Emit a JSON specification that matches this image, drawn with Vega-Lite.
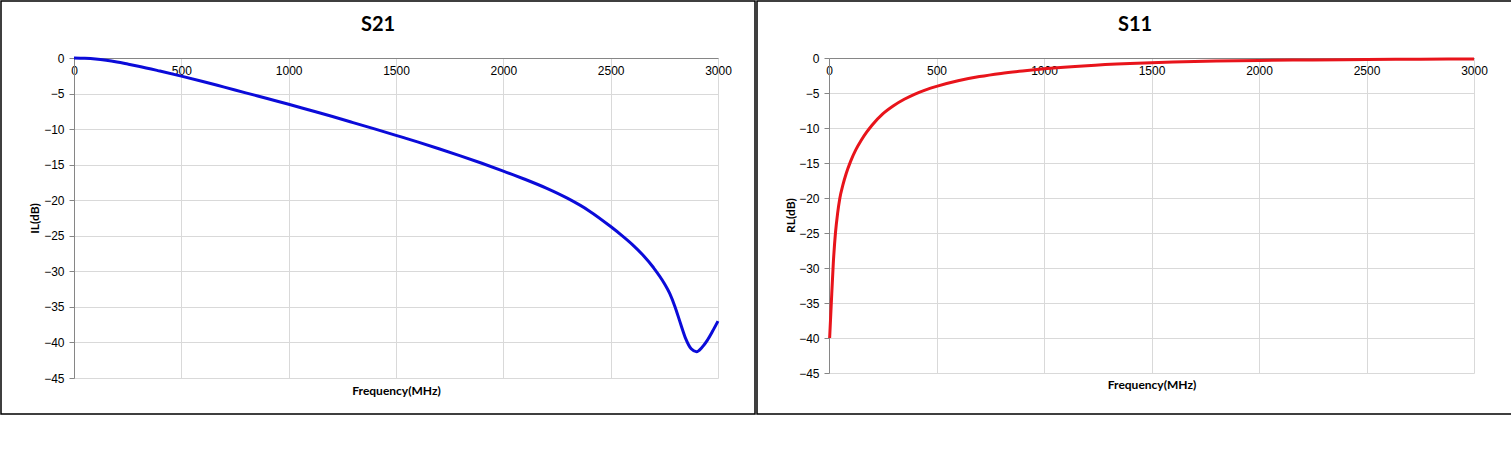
{
  "$schema": "https://vega.github.io/schema/vega-lite/v6.json",
  "padding": 0,
  "background": "white",
  "spacing": 0,
  "config": {
    "view": {"stroke": "#000000", "strokeWidth": 1.5},
    "axis": {
      "domainColor": "#868686",
      "domainWidth": 1,
      "tickColor": "#868686",
      "gridColor": "#D9D9D9",
      "gridWidth": 1,
      "labelColor": "#000000",
      "labelFont": "Liberation Sans",
      "labelFontSize": 12,
      "labelOverlap": false,
      "labelFlush": false,
      "titleFont": "Lato",
      "titleFontWeight": "bold",
      "titleFontSize": 12,
      "titleColor": "#000000"
    },
    "title": {"font": "Lato", "fontWeight": "bold", "fontSize": 20, "color": "#000000", "anchor": "middle", "frame": "group", "baseline": "alphabetic"}
  },
  "datasets": {
    "s21": [
      {"freq": 0, "db": 0},
      {"freq": 50, "db": -0.04},
      {"freq": 100, "db": -0.14},
      {"freq": 150, "db": -0.32},
      {"freq": 200, "db": -0.56},
      {"freq": 250, "db": -0.85},
      {"freq": 300, "db": -1.15},
      {"freq": 400, "db": -1.83},
      {"freq": 500, "db": -2.55},
      {"freq": 600, "db": -3.3},
      {"freq": 700, "db": -4.1},
      {"freq": 800, "db": -4.9},
      {"freq": 900, "db": -5.7},
      {"freq": 1000, "db": -6.5},
      {"freq": 1100, "db": -7.35},
      {"freq": 1200, "db": -8.2},
      {"freq": 1300, "db": -9.08},
      {"freq": 1400, "db": -9.97},
      {"freq": 1500, "db": -10.88},
      {"freq": 1600, "db": -11.8},
      {"freq": 1700, "db": -12.76},
      {"freq": 1800, "db": -13.76},
      {"freq": 1900, "db": -14.8},
      {"freq": 2000, "db": -15.9},
      {"freq": 2100, "db": -17.05},
      {"freq": 2200, "db": -18.3},
      {"freq": 2300, "db": -19.75},
      {"freq": 2400, "db": -21.5},
      {"freq": 2500, "db": -23.7},
      {"freq": 2550, "db": -24.9},
      {"freq": 2600, "db": -26.2},
      {"freq": 2650, "db": -27.7},
      {"freq": 2700, "db": -29.5},
      {"freq": 2750, "db": -31.7},
      {"freq": 2775, "db": -33.1},
      {"freq": 2800, "db": -35.0},
      {"freq": 2825, "db": -37.3},
      {"freq": 2850, "db": -39.5},
      {"freq": 2875, "db": -40.9},
      {"freq": 2900, "db": -41.3},
      {"freq": 2925, "db": -40.7},
      {"freq": 2950, "db": -39.7},
      {"freq": 2975, "db": -38.4},
      {"freq": 3000, "db": -37.0}
    ],
    "s11": [
      {"freq": 3, "db": -40.0},
      {"freq": 10, "db": -35.5},
      {"freq": 20, "db": -29.3},
      {"freq": 30, "db": -25.0},
      {"freq": 40, "db": -22.2},
      {"freq": 50, "db": -20.1},
      {"freq": 65, "db": -18.1},
      {"freq": 80, "db": -16.5},
      {"freq": 100, "db": -14.8},
      {"freq": 125, "db": -13.1},
      {"freq": 150, "db": -11.75},
      {"freq": 175, "db": -10.6},
      {"freq": 200, "db": -9.6},
      {"freq": 250, "db": -7.98},
      {"freq": 300, "db": -6.82},
      {"freq": 350, "db": -5.9},
      {"freq": 400, "db": -5.15},
      {"freq": 450, "db": -4.55},
      {"freq": 500, "db": -4.05},
      {"freq": 600, "db": -3.25},
      {"freq": 700, "db": -2.65},
      {"freq": 800, "db": -2.2},
      {"freq": 900, "db": -1.85},
      {"freq": 1000, "db": -1.55},
      {"freq": 1200, "db": -1.1},
      {"freq": 1400, "db": -0.8},
      {"freq": 1600, "db": -0.58},
      {"freq": 1800, "db": -0.44},
      {"freq": 2000, "db": -0.35},
      {"freq": 2250, "db": -0.27},
      {"freq": 2500, "db": -0.21},
      {"freq": 2750, "db": -0.17},
      {"freq": 3000, "db": -0.14}
    ]
  },
  "hconcat": [
    {
      "width": 754,
      "height": 413,
      "title": {"text": "S21", "offset": -34},
      "data": {"name": "s21"},
      "mark": {"type": "line", "interpolate": "monotone", "strokeWidth": 3, "color": "#0B0BD9"},
      "encoding": {
        "x": {
          "field": "freq", "type": "quantitative",
          "scale": {"domain": [0, 3000], "range": [73, 717], "nice": false},
          "axis": {"orient": "top", "offset": -57, "title": "Frequency(MHz)", "titleY": 332, "titleBaseline": "middle",
                   "values": [0, 500, 1000, 1500, 2000, 2500, 3000], "format": "d", "ticks": false, "labelPadding": -7, "labelBaseline": "top", "labelAlign": "center"}
        },
        "y": {
          "field": "db", "type": "quantitative",
          "scale": {"domain": [-45, 0], "range": [377, 57], "nice": false, "zero": false},
          "axis": {"orient": "left", "offset": -73, "title": "IL(dB)", "titleX": -40, "titleY": 217, "titleBaseline": "middle", "titleAngle": 270,
                   "values": [0, -5, -10, -15, -20, -25, -30, -35, -40, -45], "tickSize": 5, "labelPadding": 5}
        }
      }
    },
    {
      "width": 756,
      "height": 413,
      "title": {"text": "S11", "offset": -34},
      "data": {"name": "s11"},
      "mark": {"type": "line", "interpolate": "monotone", "strokeWidth": 3, "color": "#E8141B"},
      "encoding": {
        "x": {
          "field": "freq", "type": "quantitative",
          "scale": {"domain": [0, 3000], "range": [72, 717], "nice": false},
          "axis": {"orient": "top", "offset": -57, "title": "Frequency(MHz)", "titleY": 326, "titleBaseline": "middle",
                   "values": [0, 500, 1000, 1500, 2000, 2500, 3000], "format": "d", "ticks": false, "labelPadding": -7, "labelBaseline": "top", "labelAlign": "center"}
        },
        "y": {
          "field": "db", "type": "quantitative",
          "scale": {"domain": [-45, 0], "range": [372, 57], "nice": false, "zero": false},
          "axis": {"orient": "left", "offset": -72, "title": "RL(dB)", "titleX": -39, "titleY": 214, "titleBaseline": "middle", "titleAngle": 270,
                   "values": [0, -5, -10, -15, -20, -25, -30, -35, -40, -45], "tickSize": 5, "labelPadding": 5}
        }
      }
    }
  ]
}
